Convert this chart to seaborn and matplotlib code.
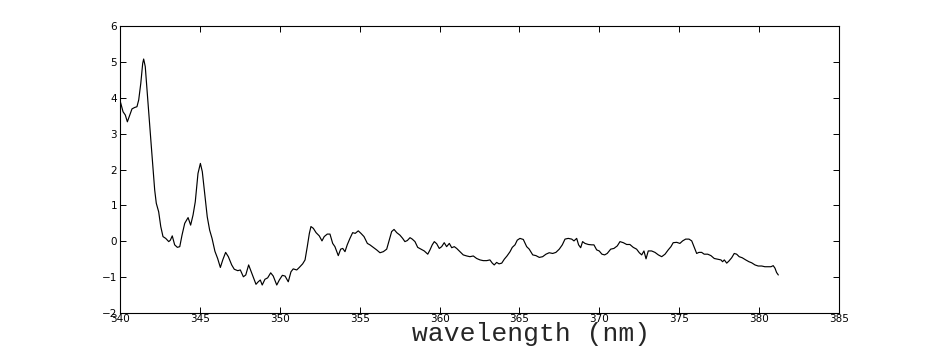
import matplotlib
matplotlib.use('Agg')
import matplotlib.pyplot as plt
import seaborn as sns
import pandas as pd

# wavelength (nm) and signal
wavelength = [
    340.00, 340.04, 340.19, 340.33, 340.46, 340.61, 340.75, 340.92, 341.06, 341.17,
    341.30, 341.42, 341.48, 341.58, 341.71, 341.86, 341.96, 342.07, 342.17, 342.27,
    342.42, 342.55, 342.69, 342.86, 343.05, 343.15, 343.27, 343.42, 343.59, 343.74,
    343.88, 344.05, 344.26, 344.42, 344.57, 344.71, 344.88, 345.03, 345.15, 345.30,
    345.46, 345.61, 345.76, 345.94, 346.11, 346.28, 346.43, 346.61, 346.78, 346.99,
    347.15, 347.37, 347.53, 347.72, 347.87, 348.05, 348.24, 348.37, 348.51, 348.65,
    348.78, 348.90, 349.07, 349.24, 349.43, 349.59, 349.81, 349.97, 350.16, 350.33,
    350.53, 350.70, 350.84, 351.06, 351.22, 351.43, 351.58, 351.72, 351.85, 351.95,
    352.10, 352.27, 352.47, 352.64, 352.78, 352.97, 353.14, 353.31, 353.45, 353.66,
    353.81, 353.94, 354.08, 354.22, 354.39, 354.56, 354.72, 354.91, 355.08, 355.27,
    355.48, 355.64, 355.85, 356.06, 356.27, 356.48, 356.69, 356.85, 357.00, 357.15,
    357.32, 357.52, 357.69, 357.83, 357.98, 358.15, 358.29, 358.46, 358.63, 358.84,
    359.04, 359.26, 359.40, 359.54, 359.67, 359.82, 359.98, 360.13, 360.29, 360.44,
    360.61, 360.76, 360.92, 361.07, 361.28, 361.48, 361.70, 361.90, 362.11, 362.32,
    362.53, 362.73, 362.95, 363.15, 363.30, 363.42, 363.57, 363.72, 363.89, 364.05,
    364.22, 364.41, 364.55, 364.72, 364.86, 365.03, 365.24, 365.45, 365.61, 365.83,
    366.03, 366.24, 366.45, 366.66, 366.86, 367.08, 367.28, 367.49, 367.68, 367.85,
    368.05, 368.27, 368.41, 368.58, 368.70, 368.83, 368.95, 369.10, 369.31, 369.52,
    369.66, 369.83, 369.99, 370.16, 370.33, 370.49, 370.71, 370.91, 371.12, 371.29,
    371.50, 371.71, 371.91, 372.12, 372.33, 372.50, 372.65, 372.79, 372.92, 373.06,
    373.27, 373.48, 373.69, 373.90, 374.11, 374.31, 374.48, 374.62, 374.84, 375.04,
    375.21, 375.40, 375.61, 375.78, 375.92, 376.09, 376.23, 376.40, 376.56, 376.78,
    376.98, 377.19, 377.40, 377.61, 377.71, 377.82, 377.97, 378.11, 378.28, 378.44,
    378.59, 378.75, 378.94, 379.16, 379.36, 379.53, 379.74, 379.94, 380.16, 380.36,
    380.57, 380.74, 380.88, 380.99, 381.09, 381.20,
]
signal = [
    3.90, 3.86, 3.61, 3.52, 3.33, 3.52, 3.69, 3.73, 3.75, 3.94,
    4.40, 4.96, 5.08, 4.87, 4.12, 3.29, 2.64, 1.99, 1.43, 1.06,
    0.82, 0.41, 0.13, 0.08, -0.01, 0.03, 0.15, -0.10, -0.17, -0.15,
    0.17, 0.50, 0.66, 0.45, 0.73, 1.10, 1.89, 2.17, 1.94, 1.34,
    0.68, 0.31, 0.08, -0.28, -0.48, -0.73, -0.52, -0.31, -0.43, -0.66,
    -0.78, -0.82, -0.80, -0.99, -0.94, -0.66, -0.88, -1.03, -1.20, -1.13,
    -1.08, -1.22, -1.06, -1.02, -0.88, -0.97, -1.22, -1.08, -0.95, -0.97,
    -1.13, -0.85, -0.77, -0.80, -0.73, -0.63, -0.52, -0.15, 0.22, 0.41,
    0.36, 0.24, 0.15, 0.01, 0.13, 0.20, 0.20, -0.06, -0.15, -0.40,
    -0.22, -0.20, -0.29, -0.10, 0.08, 0.24, 0.22, 0.29, 0.22, 0.13,
    -0.06, -0.10, -0.17, -0.24, -0.32, -0.29, -0.22, 0.03, 0.27, 0.33,
    0.24, 0.17, 0.08, -0.01, 0.02, 0.10, 0.06, -0.01, -0.17, -0.22,
    -0.27, -0.36, -0.24, -0.10, -0.01, -0.07, -0.20, -0.15, -0.04, -0.15,
    -0.06, -0.18, -0.15, -0.20, -0.29, -0.38, -0.41, -0.43, -0.41, -0.48,
    -0.52, -0.54, -0.54, -0.52, -0.61, -0.66, -0.59, -0.63, -0.61, -0.50,
    -0.41, -0.29, -0.17, -0.10, 0.03, 0.08, 0.05, -0.15, -0.22, -0.38,
    -0.40, -0.45, -0.43, -0.36, -0.32, -0.34, -0.31, -0.22, -0.10, 0.06,
    0.08, 0.06, 0.01, 0.08, -0.10, -0.18, -0.01, -0.06, -0.09, -0.10,
    -0.10, -0.24, -0.27, -0.36, -0.38, -0.34, -0.22, -0.20, -0.13, -0.01,
    -0.04, -0.09, -0.09, -0.17, -0.22, -0.32, -0.38, -0.27, -0.49, -0.27,
    -0.27, -0.31, -0.38, -0.43, -0.36, -0.24, -0.15, -0.04, -0.03, -0.06,
    0.01, 0.06, 0.06, 0.01, -0.15, -0.34, -0.31, -0.31, -0.36, -0.36,
    -0.40, -0.48, -0.50, -0.52, -0.57, -0.52, -0.61, -0.55, -0.46, -0.34,
    -0.36, -0.43, -0.46, -0.52, -0.57, -0.60, -0.66, -0.69, -0.69, -0.71,
    -0.71, -0.71, -0.68, -0.75, -0.87, -0.94,
]
x_ticks = [340, 345, 350, 355, 360, 365, 370, 375, 380, 385]
y_ticks = [-2, -1, 0, 1, 2, 3, 4, 5, 6]

df = pd.DataFrame({'wavelength': wavelength, 'signal': signal})

sns.set_style('ticks')
plt.rcParams['font.family'] = ['DejaVu Sans']
plt.rcParams['xtick.direction'] = 'in'
plt.rcParams['ytick.direction'] = 'in'

fig = plt.figure(figsize=(9.26, 3.54), dpi=100)
ax = fig.add_axes([0.1296, 0.1158, 0.7765, 0.8107])

sns.lineplot(ax=ax, data=df, x='wavelength', y='signal', sort=False,
             color='black', linewidth=0.85)

ax.set_xlim(340, 385)
ax.set_ylim(-2, 6)
ax.set_xticks(x_ticks)
ax.set_yticks(y_ticks)
ax.tick_params(axis='both', which='both', direction='in', length=4, width=0.7,
               labelsize=7.5, top=True, right=True, pad=2, colors='black')
ax.tick_params(axis='x', pad=1)
for sp in ax.spines.values():
    sp.set_visible(True)
    sp.set_color('black')
    sp.set_linewidth(0.8)

ax.set_ylabel('')
ax.set_xlabel('wavelength (nm)', family=['Liberation Mono', 'DejaVu Sans Mono'],
              fontsize=19, labelpad=-2)
# the label sits right of the axes centre in the reference
ax.xaxis.label.set_x(0.572)

fig.savefig('out.png', dpi=100)
